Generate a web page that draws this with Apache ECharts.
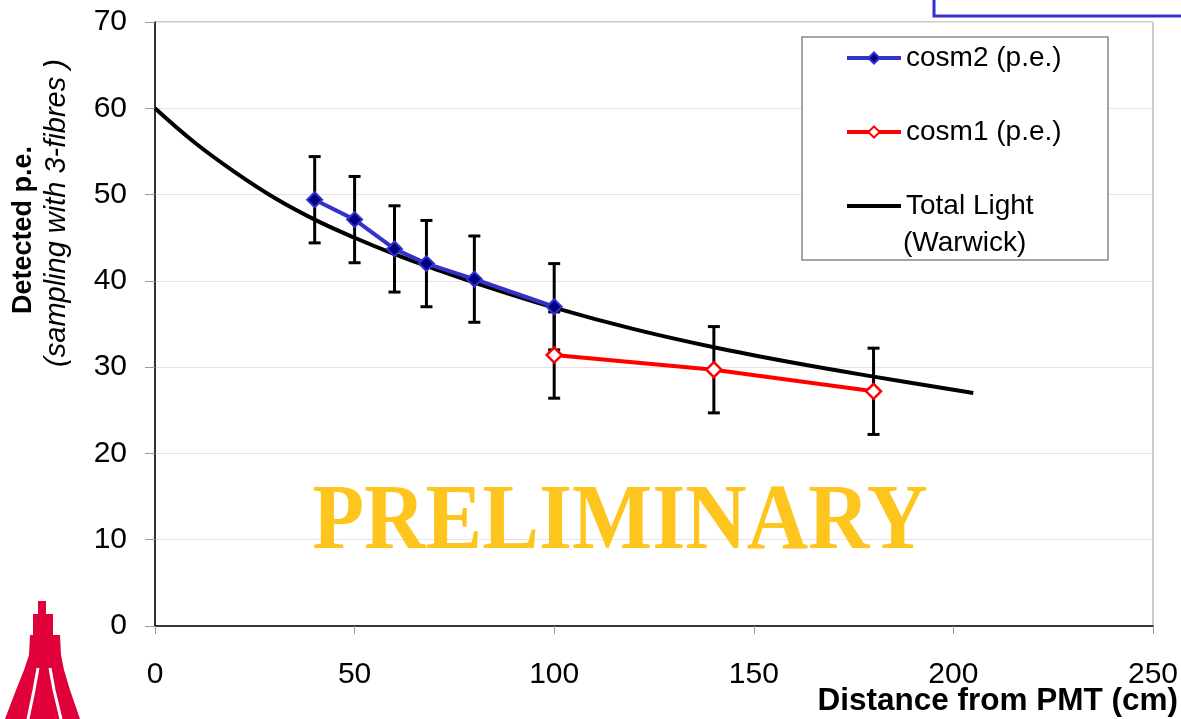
<!DOCTYPE html>
<html>
<head>
<meta charset="utf-8">
<title>Detected p.e. vs distance from PMT</title>
<script src="https://cdn.jsdelivr.net/npm/echarts/dist/echarts.min.js"></script>
<style>
  html, body { margin: 0; padding: 0; background: #fff; }
  #main { width: 1181px; height: 719px; }
</style>
</head>
<body>
<div id="main"></div>
<script>
// cosm2 (p.e.) measured points and error half-widths
var cosm2X = [40, 50, 60, 68, 80, 100];
var cosm2Y = [49.4, 47.1, 43.7, 42.0, 40.2, 37.0];
var cosm2Err = [5, 5, 5, 5, 5, 5];

// cosm1 (p.e.)
var cosm1X = [100, 140, 180];
var cosm1Y = [31.4, 29.7, 27.2];
var cosm1Err = [5, 5, 5];

// Total Light (Warwick)
var totalX = [0, 10, 20, 30, 40, 50, 60, 70, 80, 100, 120, 140, 160, 180, 205];
var totalY = [60.0, 56.0, 52.6, 49.6, 47.1, 45.0, 43.1, 41.4, 39.8, 36.9, 34.4, 32.3, 30.5, 28.9, 27.0];

var yTicks = [0, 10, 20, 30, 40, 50, 60, 70];
var xTicks = [0, 50, 100, 150, 200, 250];

function pairs(xs, ys) {
  return xs.map(function (x, i) { return [x, ys[i]]; });
}
function errRows(xs, ys, es) {
  return xs.map(function (x, i) { return [x, ys[i] - es[i], ys[i] + es[i]]; });
}

function renderErr(params, api) {
  var x = api.value(0);
  var lo = api.coord([x, api.value(1)]);
  var hi = api.coord([x, api.value(2)]);
  var cap = 6;
  var st = { stroke: "#000", lineWidth: 3 };
  return {
    type: "group",
    children: [
      { type: "line", shape: { x1: lo[0], y1: lo[1], x2: hi[0], y2: hi[1] }, style: st },
      { type: "line", shape: { x1: lo[0] - cap, y1: lo[1], x2: lo[0] + cap, y2: lo[1] }, style: st },
      { type: "line", shape: { x1: hi[0] - cap, y1: hi[1], x2: hi[0] + cap, y2: hi[1] }, style: st }
    ]
  };
}

var chart = echarts.init(document.getElementById("main"));
var font = "Liberation Sans, Arial, sans-serif";

var option = {
  animation: false,
  backgroundColor: "#fff",
  textStyle: { fontFamily: font },
  grid: {
    left: 155, right: 26, top: 22, bottom: 93,
    show: true, borderColor: "#999", borderWidth: 1
  },
  xAxis: {
    type: "value",
    min: xTicks[0], max: xTicks[xTicks.length - 1], interval: 50,
    axisLine: { lineStyle: { color: "#000", width: 1.5 } },
    axisTick: { show: true, length: 8, lineStyle: { color: "#999", width: 1 } },
    axisLabel: { color: "#000", fontSize: 30, fontFamily: font, margin: 34 },
    splitLine: { show: false }
  },
  yAxis: {
    type: "value",
    min: yTicks[0], max: yTicks[yTicks.length - 1], interval: 10,
    axisLine: { show: true, lineStyle: { color: "#000", width: 1.5 } },
    axisTick: { show: true, length: 10, lineStyle: { color: "#999", width: 1 } },
    axisLabel: { color: "#000", fontSize: 30, fontFamily: font, margin: 28 },
    splitLine: { show: true, lineStyle: { color: "#e4e4e4", width: 1 } }
  },
  legend: {
    data: [
      { name: "cosm2 (p.e.)", lineStyle: { width: 4 } },
      { name: "cosm1 (p.e.)", lineStyle: { width: 4 } },
      { name: "Total Light", icon: "path://M0,0H54V4H0Z" }
    ],
    orient: "vertical",
    left: 845, top: 44,
    padding: 0,
    itemWidth: 54, itemHeight: 14,
    itemGap: 46,
    z: 5,
    textStyle: { fontSize: 28, color: "#000", fontFamily: font }
  },
  graphic: [
    {
      type: "rect", z: 3,
      shape: { x: 802, y: 37, width: 306, height: 223 },
      style: { fill: "#fff", stroke: "#888", lineWidth: 1.5 }
    },
    {
      type: "text", z: 6, x: 903, y: 243,
      style: { text: "(Warwick)", font: "28px " + font, fill: "#000", textVerticalAlign: "middle" }
    },
    {
      type: "text", x: 620, y: 524, scaleY: 1.09, z: 1,
      style: {
        text: "PRELIMINARY", font: "bold 85px 'Liberation Serif', 'Times New Roman', serif",
        fill: "#FFC51F", textAlign: "center", textVerticalAlign: "middle"
      }
    },
    {
      type: "text", x: 1178, y: 701,
      style: { text: "Distance from PMT (cm)", font: "bold 31.5px " + font, fill: "#000", textAlign: "right", textVerticalAlign: "middle" }
    },
    {
      type: "text", x: 24, y: 230, rotation: Math.PI / 2,
      style: { text: "Detected p.e.", font: "bold 27px " + font, fill: "#000", textAlign: "center", textVerticalAlign: "middle" }
    },
    {
      type: "text", x: 57, y: 213, rotation: Math.PI / 2,
      style: { text: "(sampling with 3-fibres )", font: "italic 29px " + font, fill: "#000", textAlign: "center", textVerticalAlign: "middle" }
    },
    {
      type: "polyline",
      shape: { points: [[934, 0], [934, 16], [1181, 16]] },
      style: { stroke: "#3333cc", lineWidth: 3, fill: null }
    },
    {
      type: "polygon",
      shape: { points: [[38, 601], [46, 601], [46, 614], [53, 614], [53, 635], [60, 635], [61, 655],
        [64, 670], [70, 690], [80, 719], [5, 719], [16, 690], [24, 670], [29, 655], [30, 635], [33, 635], [33, 614], [38, 614]] },
      style: { fill: "#e0003a" }
    },
    {
      type: "polyline",
      shape: { points: [[38, 668], [34, 690], [28, 719]] },
      style: { stroke: "#fff", lineWidth: 3, fill: null }
    },
    {
      type: "polyline",
      shape: { points: [[50, 668], [54, 690], [61, 719]] },
      style: { stroke: "#fff", lineWidth: 3, fill: null }
    }
  ],
  series: [
    {
      name: "Total Light",
      type: "line",
      data: pairs(totalX, totalY),
      smooth: 0.4,
      showSymbol: false,
      symbol: "none",
      z: 2,
      lineStyle: { color: "#000", width: 4 },
      itemStyle: { color: "#000" }
    },
    {
      name: "cosm2 err",
      type: "custom",
      data: errRows(cosm2X, cosm2Y, cosm2Err),
      renderItem: renderErr,
      z: 3
    },
    {
      name: "cosm1 err",
      type: "custom",
      data: errRows(cosm1X, cosm1Y, cosm1Err),
      renderItem: renderErr,
      z: 3
    },
    {
      name: "cosm2 (p.e.)",
      type: "line",
      data: pairs(cosm2X, cosm2Y),
      symbol: "diamond",
      symbolSize: 15,
      z: 4,
      lineStyle: { color: "#3333cc", width: 4 },
      itemStyle: { color: "#000080", borderColor: "#3333cc", borderWidth: 2 }
    },
    {
      name: "cosm1 (p.e.)",
      type: "line",
      data: pairs(cosm1X, cosm1Y),
      symbol: "diamond",
      symbolSize: 15,
      z: 4,
      lineStyle: { color: "#ff0000", width: 4 },
      itemStyle: { color: "#fff", borderColor: "#ff0000", borderWidth: 2.5 }
    }
  ]
};

chart.setOption(option);
</script>
</body>
</html>
